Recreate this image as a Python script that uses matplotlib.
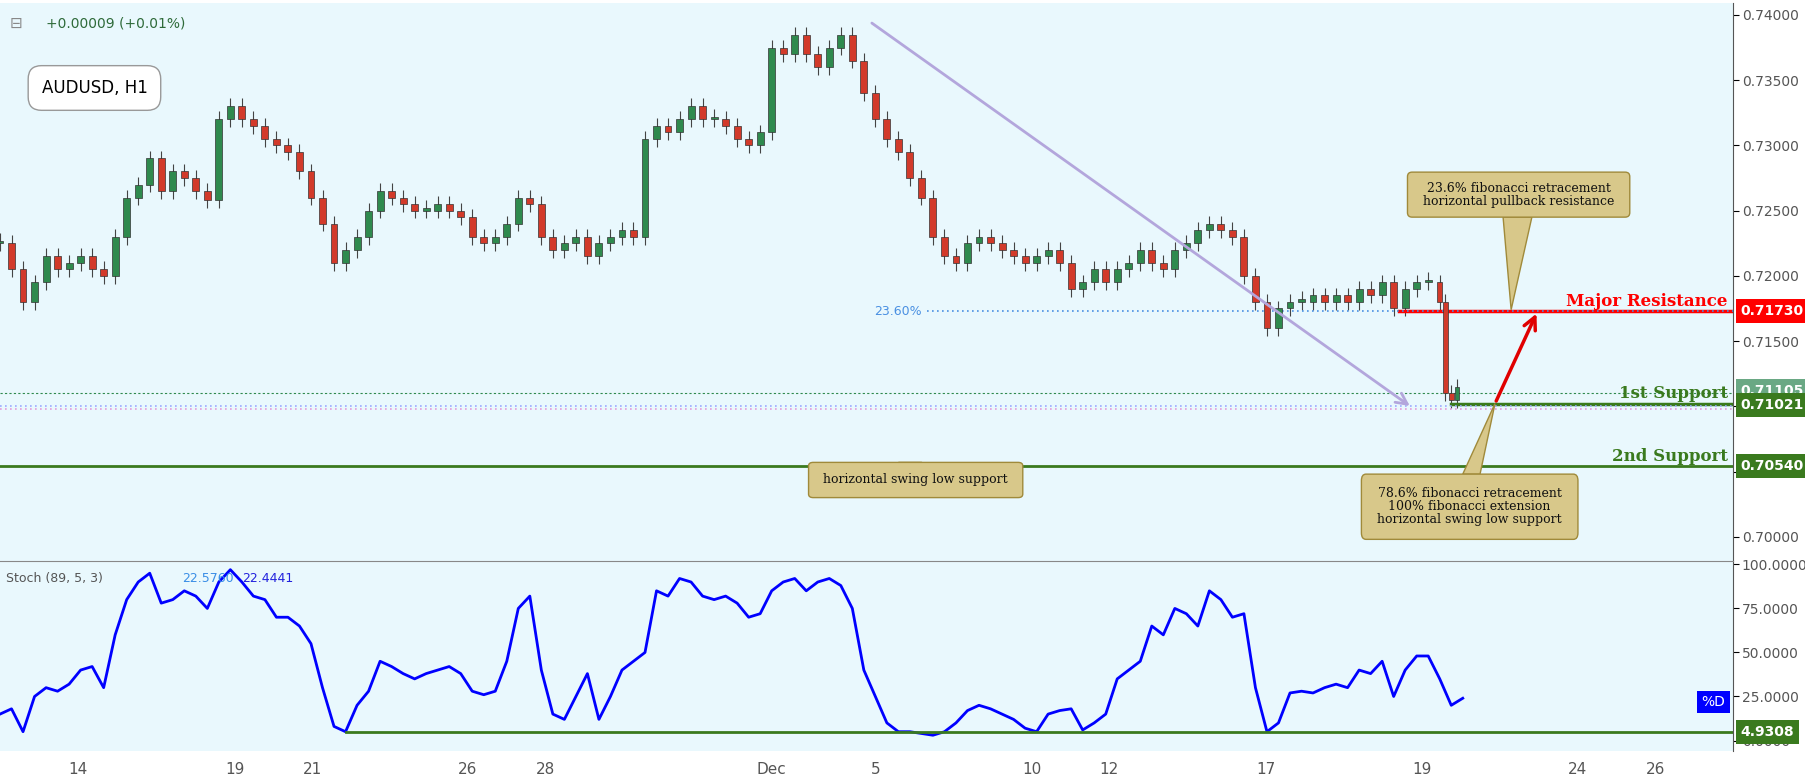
import matplotlib
matplotlib.use("Agg")
import matplotlib.pyplot as plt
import numpy as np
from matplotlib.patches import FancyBboxPatch, Polygon

# ---- data ----
bar_x = list(range(0, 1260, 10)) + [1255, 1260, 1265]
closes = [0.7225,0.7205,0.7180,0.7195,0.7215,0.7205,0.7210,0.7215,0.7205,0.7200,
          0.7230,0.7260,0.7270,0.7290,0.7265,0.7280,0.7275,0.7265,0.7258,0.7320,
          0.7330,0.7320,0.7315,0.7305,0.7300,0.7295,0.7280,0.7260,0.7240,0.7210,
          0.7220,0.7230,0.7250,0.7265,0.7260,0.7255,0.7250,0.7250,0.7255,0.7250,
          0.7245,0.7230,0.7225,0.7230,0.7240,0.7260,0.7255,0.7230,0.7220,0.7225,
          0.7230,0.7215,0.7225,0.7230,0.7235,0.7230,0.7305,0.7315,0.7310,0.7320,
          0.7330,0.7320,0.7320,0.7315,0.7305,0.7300,0.7310,0.7375,0.7370,0.7385,
          0.7370,0.7360,0.7375,0.7385,0.7365,0.7340,0.7320,0.7305,0.7295,0.7275,
          0.7260,0.7230,0.7215,0.7210,0.7225,0.7230,0.7225,0.7220,0.7215,0.7210,
          0.7215,0.7220,0.7210,0.7190,0.7195,0.7205,0.7195,0.7205,0.7210,0.7220,
          0.7210,0.7205,0.7220,0.7225,0.7235,0.7240,0.7235,0.7230,0.7200,0.7180,
          0.7160,0.7175,0.7180,0.7180,0.7185,0.7180,0.7185,0.7180,0.7190,0.7185,
          0.7195,0.7175,0.7190,0.7195,0.7195,0.7180,0.7110,0.7105,0.7115]
stoch_x = list(range(0, 1280, 10))
stoch = [15,18,5,25,30,28,32,40,42,30,60,80,90,95,78,80,85,82,75,90,
         97,90,82,80,70,70,65,55,30,8,5,20,28,45,42,38,35,38,40,42,
         38,28,26,28,45,75,82,40,15,12,25,38,12,25,40,45,50,85,82,92,
         90,82,80,82,78,70,72,85,90,92,85,90,92,88,75,40,25,10,5,5,
         4,3,5,10,17,20,18,15,12,7,5,15,17,18,6,10,15,35,40,45,
         65,60,75,72,65,85,80,70,72,30,5,10,27,28,27,30,32,30,40,38,
         45,25,40,48,48,35,20,24]
price_ticks = [0.700, 0.705, 0.710, 0.715, 0.720, 0.725, 0.730, 0.735, 0.740]
stoch_ticks = [0, 25, 50, 75, 100]
date_labels = ["14","19","21","26","28","Dec","5","10","12","17","19","24","26"]
date_pos = [68,204,271,406,474,670,760,896,963,1099,1235,1370,1437]
levels = {"major": 0.7173, "s1": 0.71021, "s2": 0.7054, "cur": 0.71105, "fib": 0.7173}

BG = "#e9f8fd"
W, H = 1568, 679
fig = plt.figure(figsize=(18.06, 7.82), dpi=100, facecolor="white")
ax = fig.add_axes([0, 1-487/H, 1505/W, 484/H], facecolor=BG)
ax2 = fig.add_axes([0, 1-652/H, 1505/W, 165/H], facecolor=BG, sharex=ax)

# candles
opens = [closes[0]] + closes[:-1]
for i, (x, o, c) in enumerate(zip(bar_x, opens, closes)):
    col = "#2f8a4e" if c >= o else "#d23a2a"
    lo, hi = min(o, c), max(o, c)
    if hi - lo < 0.0002:
        hi = lo + 0.0002
    ax.vlines(x, lo - 0.0006, hi + 0.0006, color="#444444", lw=0.8, zorder=2)
    ax.bar(x, hi - lo, bottom=lo, width=4 if x >= 1250 else 6, color=col,
           edgecolor="#333333", lw=0.5, zorder=3)

ax.set_xlim(0, 1505)
ax.set_ylim(0.69815, 0.74088)
for sp in ax.spines.values():
    sp.set_visible(False)
ax.spines["right"].set_visible(True)
ax.spines["right"].set_color("#555555")
ax.yaxis.tick_right()
ax.set_yticks(price_ticks)
ax.set_yticklabels([f"{t:.5f}" for t in price_ticks], fontsize=10, color="#555555")
ax.tick_params(axis="y", length=4, pad=2)
ax.tick_params(axis="x", bottom=False, labelbottom=False)

# lines
ax.axhline(levels["major"], xmin=1215/1505, color="#ff0000", lw=2.5)
ax.axhline(levels["s1"], xmin=1260/1505, color="#3a7a1e", lw=2.5)
ax.axhline(levels["s2"], color="#3a7a1e", lw=2)
ax.axhline(levels["cur"], color="#2f8a4e", lw=0.8, ls=(0, (2, 2)))
ax.axhline(levels["s1"] - 0.0002, color="#9aa9ff", lw=1.2, ls=(0, (1, 2)))
ax.axhline(levels["s1"] - 0.0004, color="#e39ad8", lw=1.2, ls=(0, (1, 2)))
ax.plot([805, 1505], [levels["fib"], levels["fib"]], color="#4a90e2", lw=1.2, ls=(0, (1, 2)))
ax.text(800, levels["fib"], "23.60%", color="#4a90e2", fontsize=9, ha="right", va="center")

for y, txt, col in [(levels["major"], "Major Resistance", "#ff0000"),
                    (levels["s1"], "1st Support", "#3a7a1e"),
                    (levels["s2"], "2nd Support", "#3a7a1e")]:
    ax.text(1500, y+0.0001, txt, color=col, fontsize=12, fontweight="bold",
            family="DejaVu Serif", ha="right", va="bottom")

for y, txt, col in [(levels["major"], "0.71730", "#ff0000"), (levels["cur"] + 0.0001, "0.71105", "#6aa884"),
                    (levels["s1"] - 0.0001, "0.71021", "#3a7a1e"), (levels["s2"], "0.70540", "#3a7a1e")]:
    ax.text(1.004, y, txt, transform=ax.get_yaxis_transform(), fontsize=10, fontweight="bold",
            color="white", va="center", ha="left", clip_on=False,
            bbox=dict(boxstyle="square,pad=0.35", fc=col, ec="none"), zorder=10)

# arrows
ax.annotate("", xy=(1226, 0.70990), xytext=(755, 0.7395),
            arrowprops=dict(arrowstyle="->", color="#b3a6dc", lw=2, mutation_scale=20))
ax.annotate("", xy=(1335, 0.7173), xytext=(1298, levels["s1"]),
            arrowprops=dict(arrowstyle="->", color="#e00000", lw=2.5, mutation_scale=22))

# callouts
def callout(x0, x1, y0, y1, tip, base, lines, fs=9):
    b = FancyBboxPatch((x0, y0), x1-x0, y1-y0, boxstyle="round,pad=0,rounding_size=4",
                       fc="#d8c88a", ec="#a08a3a", lw=1, transform=ax.transData, zorder=8,
                       mutation_aspect=(y1-y0)/40)
    ax.add_patch(b)
    ax.add_patch(Polygon([base[0], base[1], tip], closed=True, fc="#d8c88a", ec="#a08a3a", lw=1, zorder=7))
    ax.text((x0+x1)/2, (y0+y1)/2, "\n".join(lines), ha="center", va="center", fontsize=fs,
            family="DejaVu Serif", color="#111111", zorder=9, linespacing=1.0)

callout(1222, 1415, 0.72450, 0.72795, (1312, 0.7174),
        [(1305, 0.72450), (1330, 0.72450)],
        ["23.6% fibonacci retracement", "horizontal pullback resistance"])
callout(702, 888, 0.70300, 0.70570, (808, 0.7054),
        [(780, 0.70570), (800, 0.70570)],
        ["horizontal swing low support"])
callout(1182, 1370, 0.69980, 0.70480, (1298, levels["s1"]),
        [(1270, 0.70480), (1285, 0.70480)],
        ["78.6% fibonacci retracement", "100% fibonacci extension", "horizontal swing low support"])

# labels top-left
fig.text(8/W, 1-20/H, "⊟", fontsize=11, color="#888888", va="center")
fig.text(40/W, 1-20/H, "+0.00009 (+0.01%)", fontsize=10, color="#2f6b3a", va="center")
ax.text(82, 0.73440, "AUDUSD, H1", fontsize=12, ha="center", va="center", zorder=9,
        bbox=dict(boxstyle="round,pad=0.8", fc="white", ec="#999999"))

# stoch
ax2.plot(stoch_x, stoch, color="#0000ff", lw=2)
ax2.axhline(4.9308, xmin=300/1505, color="#3a7a1e", lw=2)
ax2.set_ylim(-5.9, 102)
for sp in ax2.spines.values():
    sp.set_visible(False)
ax2.spines["right"].set_visible(True)
ax2.spines["right"].set_color("#555555")
ax2.spines["top"].set_visible(True)
ax2.spines["top"].set_color("#888888")
ax2.yaxis.tick_right()
ax2.set_yticks(stoch_ticks)
ax2.set_yticklabels([f"{t:.4f}" for t in stoch_ticks], fontsize=10, color="#555555")
ax2.text(1.004, 4.9308, "4.9308", transform=ax2.get_yaxis_transform(), fontsize=10, fontweight="bold",
         color="white", va="center", ha="left", bbox=dict(boxstyle="square,pad=0.35", fc="#3a7a1e", ec="none"), zorder=10)
ax2.text(1498, 22, "%D", fontsize=10, color="white", ha="right", va="center",
         bbox=dict(boxstyle="square,pad=0.3", fc="#0000ff", ec="none"))
ax2.text(5, 92, "Stoch (89, 5, 3)", fontsize=9, color="#555555", va="center")
ax2.text(158, 92, "22.5760", fontsize=9, color="#3a8ee6", va="center")
ax2.text(210, 92, "22.4441", fontsize=9, color="#2222dd", va="center")
ax2.set_xticks(date_pos)
ax2.set_xticklabels(date_labels, fontsize=11, color="#555555")
ax2.tick_params(axis="x", length=0, pad=8)
ax2.tick_params(axis="y", length=4, pad=2)

fig.savefig("out.png", dpi=100, facecolor="white")
